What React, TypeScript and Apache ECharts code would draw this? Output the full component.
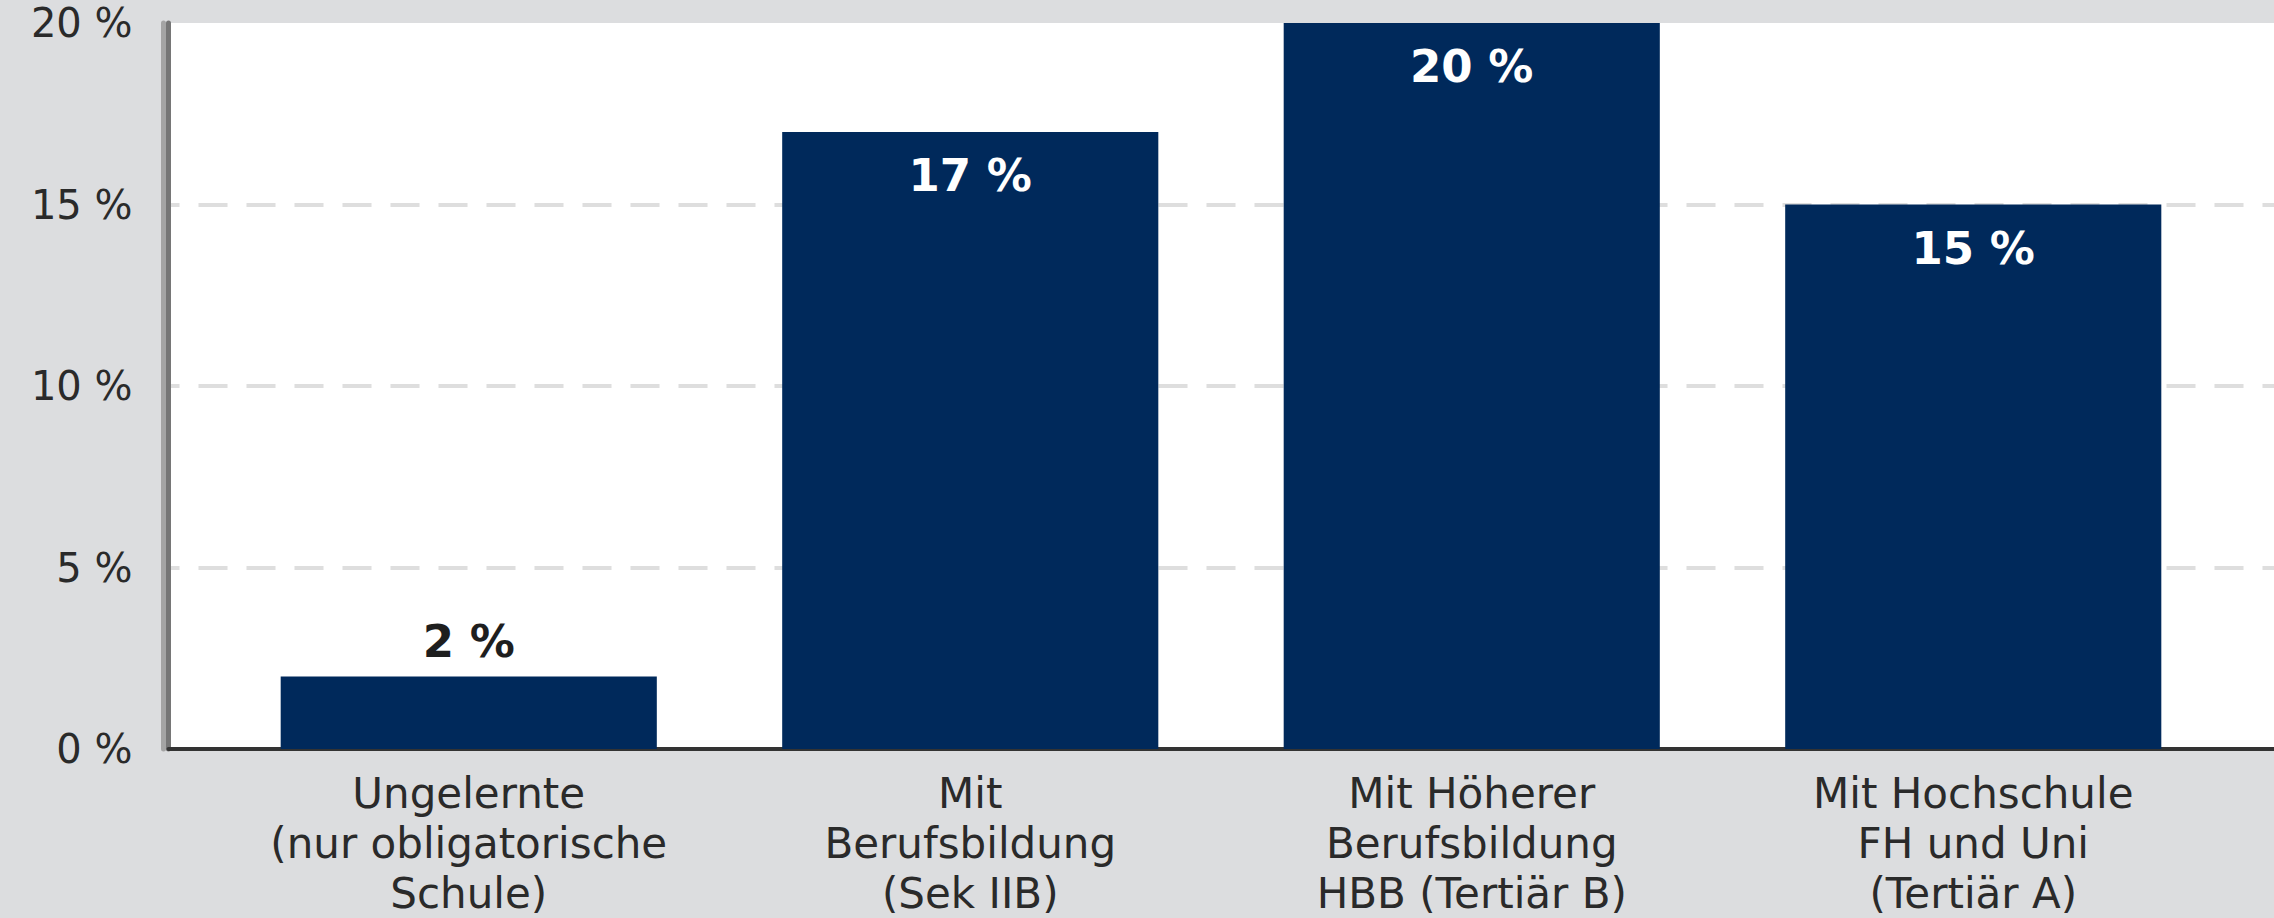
import React, { useEffect, useRef } from "react";
import * as echarts from "echarts";

const categories = [
  "Ungelernte\n(nur obligatorische\nSchule)",
  "Mit\nBerufsbildung\n(Sek IIB)",
  "Mit Höherer\nBerufsbildung\nHBB (Tertiär B)",
  "Mit Hochschule\nFH und Uni\n(Tertiär A)",
];
const values = [2, 17, 20, 15];
const yMin = 0;
const yMax = 20;
const yStep = 5;

const FONT = "DejaVu Sans";
const BAR = "#00295b";
const TEXT = "#2a2a2a";

export default function App() {
  const ref = useRef<HTMLDivElement>(null);
  useEffect(() => {
    if (!ref.current) return;
    const chart = echarts.init(ref.current, null, { renderer: "svg" });
    const top = 23;
    const bottom = 169;
    chart.setOption({
      animation: false,
      backgroundColor: "#dcdddf",
      grid: [
        {
          left: 168.5,
          right: 0,
          top,
          bottom,
          show: true,
          backgroundColor: "#ffffff",
          borderWidth: 0,
        },
        { left: 218, right: 50, top, bottom },
      ],
      xAxis: [
        {
          gridIndex: 0,
          type: "value",
          min: 0,
          max: 1,
          axisLine: { show: true, lineStyle: { color: "#333333", width: 4 } },
          axisTick: { show: false },
          axisLabel: { show: false },
          splitLine: { show: false },
        },
        {
          gridIndex: 1,
          type: "category",
          data: categories,
          axisLine: { show: false },
          axisTick: { show: false },
          axisLabel: {
            interval: 0,
            hideOverlap: false,
            margin: 19,
            color: TEXT,
            fontFamily: FONT,
            fontSize: 42,
            lineHeight: 50,
            align: "center",
          },
        },
      ],
      yAxis: [
        {
          gridIndex: 0,
          type: "value",
          min: yMin,
          max: yMax,
          interval: yStep,
          axisLine: { show: true, lineStyle: { color: "#767676", width: 5 } },
          axisTick: { show: false },
          axisLabel: {
            margin: 36,
            color: TEXT,
            fontFamily: FONT,
            fontSize: 40,
            formatter: (v: number) => `${v} %`,
          },
          splitLine: {
            show: true,
            showMaxLine: false,
            showMinLine: false,
            lineStyle: {
              color: "#dedede",
              width: 4,
              type: [29, 19],
              dashOffset: 17.5,
            },
          },
        },
        {
          gridIndex: 1,
          type: "value",
          min: yMin,
          max: yMax,
          interval: yStep,
          offset: 54.5,
          axisLine: { show: true, lineStyle: { color: "#a4a4a4", width: 5 } },
          axisTick: { show: false },
          axisLabel: { show: false },
          splitLine: { show: false },
        },
      ],
      series: [
        {
          type: "bar",
          xAxisIndex: 1,
          yAxisIndex: 1,
          barCategoryGap: "25%",
          itemStyle: { color: BAR },
          data: values.map((v) => ({
            value: v,
            label:
              v < 5
                ? { position: "top", distance: 12, color: "#1e1e1e" }
                : { position: "insideTop", distance: 21, color: "#ffffff" },
          })),
          label: {
            show: true,
            fontFamily: FONT,
            fontSize: 45,
            fontWeight: "bold",
            formatter: (p: any) => `${p.value} %`,
          },
        },
      ],
    });
    return () => chart.dispose();
  }, []);
  return (
    <div
      ref={ref}
      style={{ position: "fixed", left: 0, top: 0, width: 2274, height: 918 }}
    />
  );
}
